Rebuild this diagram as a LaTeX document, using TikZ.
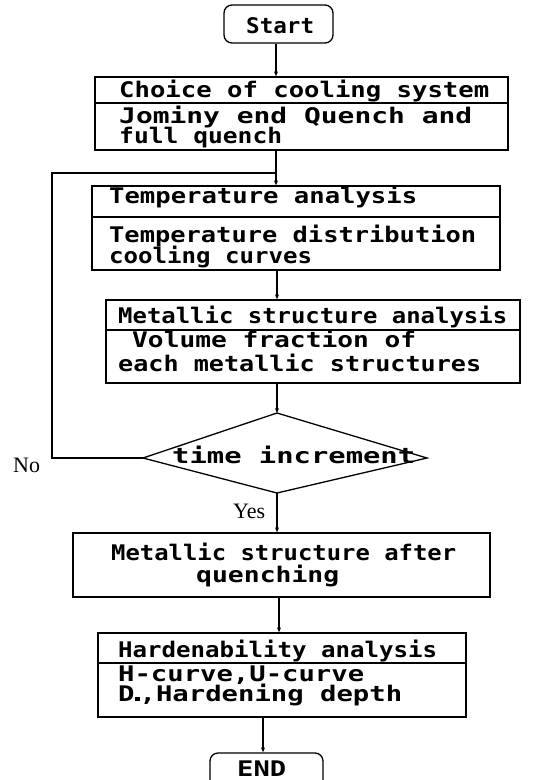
\documentclass[tikz,border=0pt]{standalone}
\usepackage{fontspec}
\usepackage{graphicx}
\usetikzlibrary{arrows.meta}
\newfontfamily\plotfont{DejaVu Sans Mono Bold}
\newfontfamily\lblfont{Liberation Serif}
\newcommand{\fitw}[2]{\resizebox{#1pt}{\height}{#2}}
\tikzset{
  box/.style={draw, line width=1.3pt, inner sep=0pt},
  term/.style={box, rounded corners=8pt},
  divline/.style={line width=1.2pt},
  txt/.style={anchor=base west, inner sep=0pt, font=\plotfont\fontsize{21.5}{24}\selectfont},
  lbl/.style={anchor=base west, inner sep=0pt, font=\lblfont\fontsize{22}{26}\selectfont},
  conn/.style={line width=1.3pt, -{Stealth[length=5pt,width=4pt]}},
  plain/.style={line width=1.3pt}
}
\begin{document}
\begin{tikzpicture}[x=1pt,y=-1pt]
\useasboundingbox (0,0) rectangle (537,780);
\clip (0,0) rectangle (537,780);
% terminals and boxes
\node[term, minimum width=109pt, minimum height=38pt] (start) at (278.5,24) {};
\node[box, minimum width=413pt, minimum height=73pt] (b1) at (301.5,113.5) {};
\node[box, minimum width=408pt, minimum height=84pt] (b2) at (296,228) {};
\node[box, minimum width=414pt, minimum height=83pt] (b3) at (313,341.5) {};
\node[box, minimum width=417pt, minimum height=64pt] (b4) at (281.5,565) {};
\node[box, minimum width=368pt, minimum height=84pt] (b5) at (282,675) {};
\node[term, minimum width=113pt, minimum height=38pt] (end) at (266.5,772) {};
% dividers
\draw[divline] (b1.west |- 0,103) -- (b1.east |- 0,103);
\draw[divline] (b2.west |- 0,217) -- (b2.east |- 0,217);
\draw[divline] (b3.west |- 0,330) -- (b3.east |- 0,330);
\draw[divline] (b5.west |- 0,663) -- (b5.east |- 0,663);
% diamond
\coordinate (dt) at (277,413);
\coordinate (dr) at (427,458);
\coordinate (db) at (277,493);
\coordinate (dl) at (143,458);
\draw[plain, line join=miter] (dt) -- (dr) -- (db) -- (dl) -- cycle;
% texts
\node[txt] (tstart) at (246,33) {\fitw{68}{Start}};
\node[txt] (t1a) at (119,97) {\fitw{370}{Choice of cooling system}};
\node[txt] (t1b) at (119,123) {\fitw{353}{Jominy end Quench and}};
\node[txt] (t1c) at (119,143) {\fitw{163}{full quench}};
\node[txt] (t2a) at (109,203) {\fitw{308}{Temperature analysis}};
\node[txt] (t2b) at (109,242) {\fitw{367}{Temperature distribution}};
\node[txt] (t2c) at (109,263) {\fitw{203}{cooling curves}};
\node[txt] (t3a) at (118,323) {\fitw{389}{Metallic structure analysis}};
\node[txt] (t3b) at (132,347) {\fitw{284}{Volume fraction of}};
\node[txt] (t3c) at (118,371) {\fitw{363}{each metallic structures}};
\node[txt] (tdia) at (172,463) {\fitw{243}{time increment}};
\node[txt] (t4a) at (111,560) {\fitw{345}{Metallic structure after}};
\node[txt] (t4b) at (196,582) {\fitw{143}{quenching}};
\node[txt] (t5a) at (118,657) {\fitw{319}{Hardenability analysis}};
\node[txt] (t5b) at (118,681) {\fitw{246}{H-curve,U-curve}};
\node[txt] (t5c) at (118,701) {\fitw{284}{D\raisebox{0pt}{\scalebox{0.5}{\rule{8pt}{8pt}}},Hardening depth}};
\node[txt] (tend) at (237,776) {\fitw{49}{END}};
\node[lbl] (no) at (13,472) {No};
\node[lbl] (yes) at (233,518) {Yes};
% spine coordinates
\coordinate (x1) at (276,0);
\coordinate (x2) at (277,0);
\coordinate (x3) at (279,0);
\coordinate (x4) at (263,0);
\coordinate (j) at (276,173);
% connectors
\draw[conn] (start.south -| x1) -- (b1.north -| x1);
\draw[conn] (b1.south -| x1) -- (b2.north -| x1);
\draw[plain] (dl) -- (52,458) |- (j);
\draw[conn] (b2.south -| x2) -- (b3.north -| x2);
\draw[conn] (b3.south -| x2) -- (dt);
\draw[conn] (db) -- (b4.north -| x2);
\draw[conn] (b4.south -| x3) -- (b5.north -| x3);
\draw[conn] (b5.south -| x4) -- (end.north -| x4);
\end{tikzpicture}
\end{document}
